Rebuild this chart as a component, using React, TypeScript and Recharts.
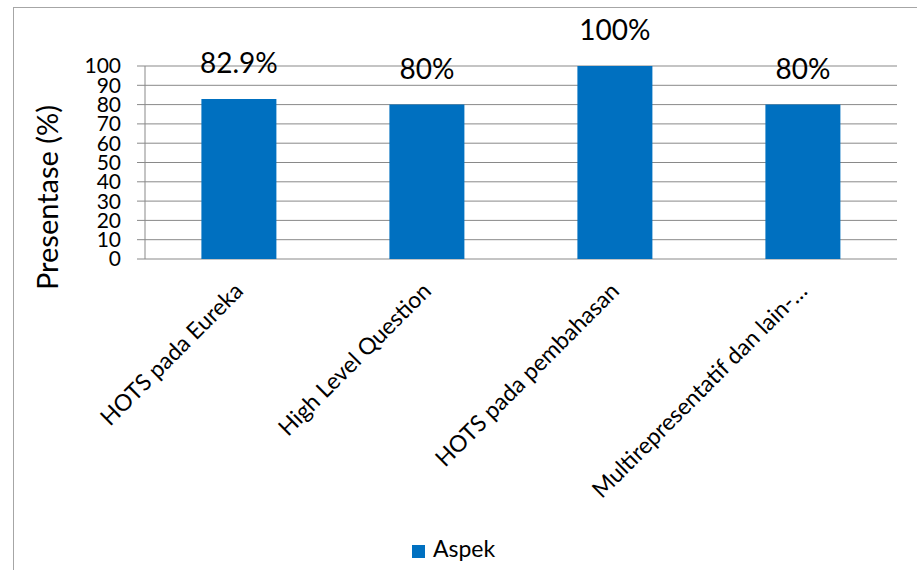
import React from 'react';
import {
  BarChart, Bar, XAxis, YAxis, CartesianGrid, Legend, LabelList,
} from 'recharts';

const categories: string[] = [
  'HOTS pada Eureka',
  'High Level Question',
  'HOTS pada pembahasan',
  'Multirepresentatif dan lain-…',
];
const aspekValues: number[] = [82.9, 80, 100, 80];
const yTicks: number[] = [0, 10, 20, 30, 40, 50, 60, 70, 80, 90, 100];
const boundaryTicks: number[] = [0, 1, 2, 3, 4];

const data = categories.map((name, i) => ({ name, aspek: aspekValues[i] }));

const FONT = 'Lato, "Liberation Sans", sans-serif';
const GRAY = '#898989';
const BLUE = '#0070C0';

const CategoryTick = (props: any) => {
  const { x, y, payload } = props;
  return (
    <g transform={`translate(${x},${y})`}>
      <text
        x={0}
        y={0}
        dx={-14}
        dy={22}
        textAnchor="end"
        transform="rotate(-45)"
        fontSize={23}
        fontFamily={FONT}
        fill="#000"
      >
        {payload.value}
      </text>
    </g>
  );
};

const AxisTitle = (props: any) => {
  const { viewBox } = props;
  const cx = 46;
  const cy = viewBox.y + viewBox.height / 2 + 35;
  return (
    <text
      x={cx}
      y={cy}
      transform={`rotate(-90 ${cx} ${cy})`}
      textAnchor="middle"
      dominantBaseline="central"
      fontSize={29}
      fontFamily={FONT}
      fill="#000"
    >
      Presentase (%)
    </text>
  );
};

export default function App() {
  return (
    <div style={{ position: 'absolute', left: 0, top: 0, width: 917, height: 570, background: '#fff', overflow: 'hidden', fontFamily: FONT }}>
      <div style={{ position: 'absolute', left: 13, top: 7, width: 920, height: 600, border: '1px solid #a6a6a6' }} />
      <BarChart
        width={917}
        height={570}
        data={data}
        barCategoryGap="30%"
        margin={{ top: 66, right: 20, left: 13, bottom: 6 }}
        style={{ position: 'absolute', left: 0, top: 0 }}
      >
        <CartesianGrid vertical={false} stroke={GRAY} strokeWidth={1} />
        <XAxis
          xAxisId="edges"
          type="number"
          domain={[0, 4]}
          ticks={boundaryTicks}
          allowDataOverflow
          height={0}
          tick={false}
          tickSize={8}
          stroke={GRAY}
        />
        <XAxis
          dataKey="name"
          interval={0}
          height={275}
          axisLine={false}
          tickLine={false}
          tick={<CategoryTick />}
        />
        <YAxis
          domain={[0, 100]}
          ticks={yTicks}
          interval={0}
          width={132}
          tickSize={8}
          tickMargin={16}
          stroke={GRAY}
          tick={{ fill: '#000', fontSize: 21, fontFamily: FONT }}
          label={<AxisTitle />}
        />
        <Legend
          verticalAlign="bottom"
          height={30}
          iconType="square"
          iconSize={13}
          wrapperStyle={{ left: 0, width: 917, fontSize: 23, fontFamily: FONT }}
          formatter={(value: string) => <span style={{ color: '#000', marginLeft: 4 }}>{value}</span>}
        />
        <Bar dataKey="aspek" name="Aspek" fill={BLUE} isAnimationActive={false}>
          <LabelList
            dataKey="aspek"
            position="top"
            offset={26}
            formatter={(v: any) => `${v}%`}
            style={{ fontSize: 28, fontFamily: FONT, fill: '#000' }}
          />
        </Bar>
      </BarChart>
    </div>
  );
}
